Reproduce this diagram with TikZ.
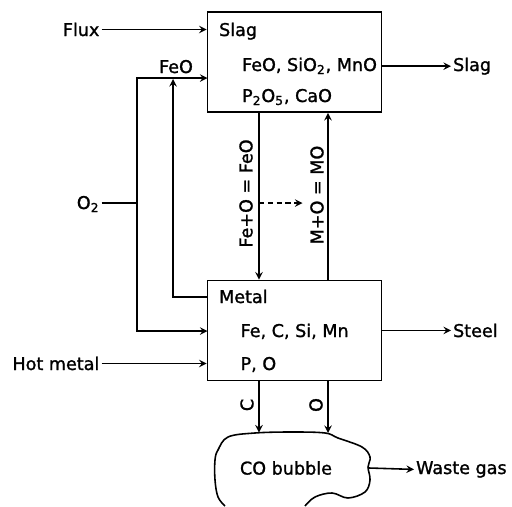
\documentclass[tikz,border=0pt]{standalone}
\usepackage{fontspec}
\setmainfont{DejaVu Sans}[BoldFont={DejaVu Sans}, BoldFeatures={FakeBold=1.3}]
\usetikzlibrary{arrows.meta, positioning}

\begin{document}
\begin{tikzpicture}[
        every node/.style={font=\fontsize{10}{12}\selectfont\bfseries, inner sep=1pt},
        box/.style={draw, line width=1pt, minimum width=3.48cm, minimum height=2cm},
        flow/.style={->, >=stealth, line width=0.9pt},
        pipe/.style={line width=0.9pt}
        ]
        \useasboundingbox (0,0) rectangle (10.24,10.12);

        % slag
        \node[box] (slag) at (5.89, 8.88) {};
        \node[anchor=base west] (slagT) at (4.34, 9.40) {Slag};
        \node[anchor=base west] (slagA) at (4.80, 8.70) {FeO, SiO\textsubscript{2}, MnO};
        \node[anchor=base west] (slagB) at (4.80, 8.08) {P\textsubscript{2}O\textsubscript{5}, CaO};

        % metal
        \node[box] (metal) at (5.89, 3.51) {};
        \node[anchor=base west] (metalT) at (4.34, 4.06) {Metal};
        \node[anchor=base west] (metalA) at (4.77, 3.38) {Fe, C, Si, Mn};
        \node[anchor=base west] (metalB) at (4.77, 2.72) {P, O};

        % inputs and outputs
        \node[anchor=base east] (flux) at (2.03, 9.40) {Flux};
        \node[anchor=base east] (o2) at (2.03, 5.94) {O\textsubscript{2}};
        \node[anchor=base east] (hot) at (2.03, 2.72) {Hot metal};
        \node[anchor=base west] (slagOut) at (9.02, 8.70) {Slag};
        \node[anchor=base west] (steel) at (9.02, 3.38) {Steel};
        \node[anchor=base west] (waste) at (8.28, 0.64) {Waste gas};
        \node[anchor=base] (feo) at (3.52, 8.66) {FeO};

        \draw[flow] (flux.east) -- (flux.east -| slag.west);
        \draw[flow] (hot.east) -- (hot.east -| metal.west);
        \draw[flow] (slag.east |- slagOut.west) -- (slagOut.west);
        \draw[flow] (metal.east |- steel.west) -- (steel.west);

        % oxygen supply
        \coordinate (split) at (2.74, 6.06);
        \coordinate (feoIn) at (4.15, 8.56);
        \coordinate (oIn) at (4.15, 3.50);
        \coordinate (feoOut) at (4.15, 4.18);
        \coordinate (feoJoin) at (3.46, 8.54);
        \draw[pipe] (o2.east |- split) -- (split);
        \draw[flow] (split) |- (feoIn);
        \draw[flow] (split) |- (oIn);
        \draw[flow] (feoOut) -| (feoJoin);

        % reactions
        \coordinate (xfe) at (5.18, 6.06);
        \coordinate (xm) at (6.56, 6.06);
        \coordinate (dashEnd) at (6.05, 6.06);
        \node[rotate=90] (feRe) at (4.92, 6.25) {Fe+O = FeO};
        \node[rotate=90] (mRe) at (6.34, 6.22) {M+O = MO};
        \draw[flow] (slag.south -| xfe) -- (metal.north -| xfe);
        \draw[flow] (metal.north -| xm) -- (slag.south -| xm);
        \draw[flow, densely dashed] (xfe) -- (dashEnd);

        % CO bubble
        \node (bubble) at (5.72, 0.76) {CO bubble};
        \draw[pipe] plot[smooth, tension=0.6] coordinates {
            (4.50,0) (4.36,0.18) (4.30,0.52) (4.30,0.92) (4.36,1.12) (4.56,1.38)
            (5.10,1.46) (5.84,1.48) (6.50,1.46) (6.76,1.36) (7.24,1.18) (7.40,0.98)
            (7.36,0.78) (7.40,0.52) (7.30,0.28) (6.96,0.16) (6.64,0.26) (6.30,0.18) (6.10,0)};
        \coordinate (bubC) at (5.18, 1.47);
        \coordinate (bubO) at (6.56, 1.46);
        \coordinate (bubE) at (7.38, 0.76);
        \node[rotate=90] (cLbl) at (4.94, 2.02) {C};
        \node[rotate=90] (oLbl) at (6.32, 2.02) {O};
        \draw[flow] (metal.south -| bubC) -- (bubC);
        \draw[flow] (metal.south -| bubO) -- (bubO);
        \draw[flow] (bubE) -- (waste.west);
\end{tikzpicture}
\end{document}
